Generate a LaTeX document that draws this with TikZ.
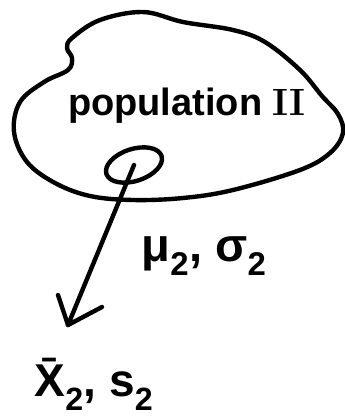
\documentclass[tikz,border=0pt]{standalone}
\usepackage{fontspec}
\newfontfamily\hand{Liberation Sans}
\usetikzlibrary{shapes.geometric}
\tikzset{
  ink/.style={draw, line width=4.4pt, line cap=round, line join=round, black},
  label/.style={inner sep=0pt, anchor=center}
}
\begin{document}
\begin{tikzpicture}[x=1pt, y=-1pt]
  \useasboundingbox (0,0) rectangle (345,416);

  % outline of the population
  \draw[ink] plot[smooth cycle, tension=0.6] coordinates {
    (72,38) (100,20) (143,12) (183,22) (233,30) (265,42) (300,70)
    (322,96) (338,114) (343,133) (330,153) (300,170) (233,190)
    (183,198) (133,200) (90,196) (55,183) (27,162) (14,132)
    (20,102) (44,82) (68,70) (72,58) (67,48)};

  \node[label, font=\hand\bfseries\fontsize{38pt}{38pt}\selectfont] (pop) at (187,106)
    {population \textrm{\bfseries II}};

  % sample drawn from the population
  \node[ink, ellipse, minimum width=58pt, minimum height=32pt, rotate=18,
        inner sep=0pt] (loop) at (134,165) {};

  \coordinate (tip) at (68,325);
  \coordinate (armA) at (58,295);
  \coordinate (armB) at (102,307);
  \draw[ink] (loop.center) -- (tip);
  \draw[ink] (armA) -- (tip) -- (armB);

  \node[label, font=\hand\bfseries\fontsize{47pt}{47pt}\selectfont] (par) at (204,256)
    {μ\textsubscript{2}, σ\textsubscript{2}};
  \node[label, font=\hand\bfseries\fontsize{46pt}{46pt}\selectfont] (stat) at (94,384)
    {\={X}\textsubscript{2}, s\textsubscript{2}};
\end{tikzpicture}
\end{document}
